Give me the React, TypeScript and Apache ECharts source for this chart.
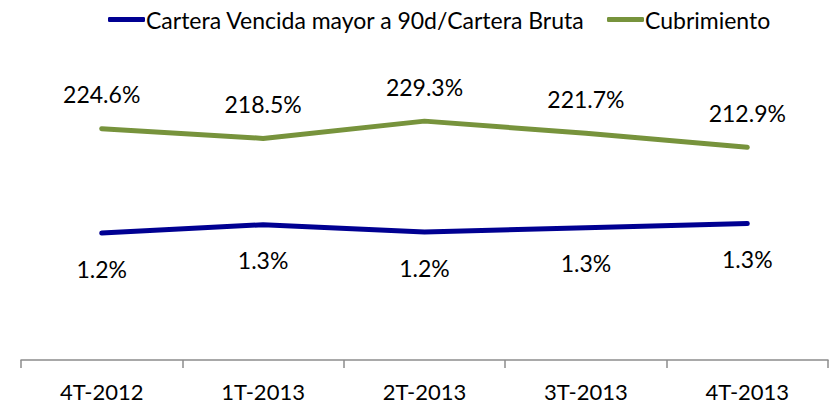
import React, { useEffect, useRef } from "react";
import * as echarts from "echarts";

const categories = ["4T-2012", "1T-2013", "2T-2013", "3T-2013", "4T-2013"];
const carteraVencida = [1.21, 1.29, 1.22, 1.26, 1.3];
const cubrimiento = [224.6, 218.5, 229.3, 221.7, 212.9];
const seriesNames = ["Cartera Vencida mayor a 90d/Cartera Bruta", "Cubrimiento"];

const FONT = "Lato";

export default function App() {
  const ref = useRef<HTMLDivElement>(null);
  useEffect(() => {
    if (!ref.current) return;
    const chart = echarts.init(ref.current, undefined, { renderer: "svg" });
    chart.setOption({
      animation: false,
      textStyle: { fontFamily: FONT },
      legend: {
        left: 103,
        top: 3,
        itemWidth: 37,
        itemHeight: 5,
        itemGap: 22,
        icon: "roundRect",
        textStyle: { fontFamily: FONT, fontSize: 23, color: "#000", padding: [0, 0, 0, -4] },
        data: seriesNames,
      },
      grid: { left: 21, right: 6, top: 40, bottom: 44, containLabel: false },
      xAxis: {
        type: "category",
        data: categories,
        boundaryGap: true,
        axisLine: { lineStyle: { color: "#8c8c8c", width: 1.5 } },
        axisTick: { show: true, length: 8, lineStyle: { color: "#8c8c8c", width: 1.5 } },
        axisLabel: { fontFamily: FONT, fontSize: 22, lineHeight: 24, color: "#000", margin: 19 },
      },
      yAxis: [
        { type: "value", min: 80, max: 280, show: false, splitLine: { show: false } },
        { type: "value", min: 0, max: 3.05, show: false, splitLine: { show: false } },
      ],
      series: [
        {
          name: seriesNames[0],
          type: "line",
          yAxisIndex: 1,
          data: carteraVencida,
          symbol: "circle",
          symbolSize: 0.1,
          showSymbol: true,
          lineStyle: { color: "#000092", width: 5, cap: "round" },
          itemStyle: { color: "#000092" },
          label: {
            show: true,
            position: "bottom",
            distance: 24,
            fontFamily: FONT,
            fontSize: 23,
            color: "#000",
            formatter: (p: any) => p.value.toFixed(1) + "%",
          },
        },
        {
          name: seriesNames[1],
          type: "line",
          yAxisIndex: 0,
          data: cubrimiento,
          symbol: "circle",
          symbolSize: 0.1,
          showSymbol: true,
          lineStyle: { color: "#77933C", width: 5, cap: "round" },
          itemStyle: { color: "#77933C" },
          label: {
            show: true,
            position: "top",
            distance: 23,
            fontFamily: FONT,
            fontSize: 23,
            color: "#000",
            formatter: (p: any) => p.value.toFixed(1) + "%",
          },
        },
      ],
    });
    return () => chart.dispose();
  }, []);
  return <div ref={ref} style={{ width: 834, height: 404, position: "absolute", left: 0, top: 0 }} />;
}
